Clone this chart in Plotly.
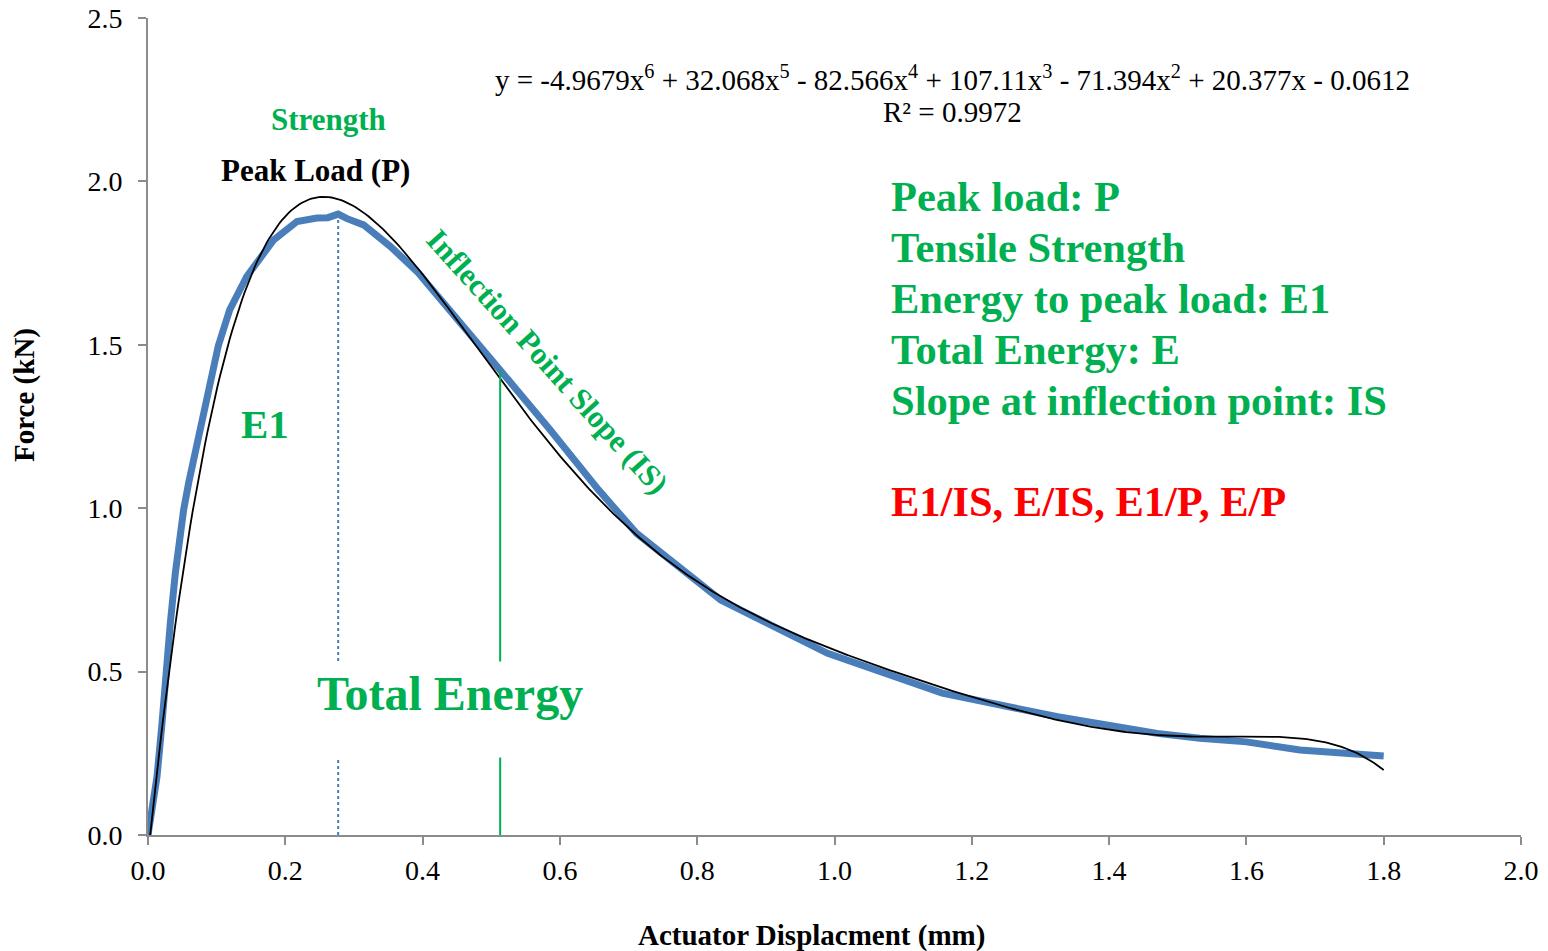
import numpy as np
import plotly.graph_objects as go

# Measured load-displacement record (mm, kN)
displacement_mm = [
    0.000, 0.003, 0.008, 0.0131, 0.0204, 0.0252, 0.0325, 0.0398, 0.0471, 0.0519,
    0.0592, 0.0665, 0.0728, 0.0855, 0.1024, 0.119, 0.1438, 0.183, 0.217, 0.246,
    0.262, 0.277, 0.290, 0.314, 0.353, 0.392, 0.4399, 0.5128, 0.5857, 0.6563,
    0.7117, 0.8343, 0.990, 1.157, 1.325, 1.470, 1.532, 1.600, 1.678, 1.800,
]
force_kn = [
    0.000, 0.046, 0.110, 0.178, 0.342, 0.495, 0.648, 0.801, 0.923, 0.995,
    1.077, 1.148, 1.209, 1.342, 1.497, 1.607, 1.709, 1.821, 1.877, 1.888,
    1.889, 1.900, 1.886, 1.867, 1.801, 1.724, 1.607, 1.423, 1.240, 1.056,
    0.923, 0.719, 0.556, 0.434, 0.362, 0.311, 0.296, 0.285, 0.260, 0.242,
]

# 6th-order polynomial trendline, highest power first
fit_coeffs = [-4.9679, 32.068, -82.566, 107.11, -71.394, 20.377, -0.0612]
r_squared = 0.9972

# displacement of the inflection point on the softening branch
inflection_x = 0.513

x_tick_values = [0.0, 0.2, 0.4, 0.6, 0.8, 1.0, 1.2, 1.4, 1.6, 1.8, 2.0]
y_tick_values = [0.0, 0.5, 1.0, 1.5, 2.0, 2.5]

summary_lines = [
    "Peak load: P",
    "Tensile Strength",
    "Energy to peak load: E1",
    "Total Energy: E",
    "Slope at inflection point: IS",
]
ratio_line = "E1/IS, E/IS, E1/P, E/P"

BLUE = "#4a7ebb"
GREEN = "#00b050"
RED = "#ff0000"
AXIS_GREY = "#8c8c8c"
SERIF = "Liberation Serif, Times New Roman, serif"

disp = np.array(displacement_mm)
force = np.array(force_kn)

x_fit = np.linspace(0.0, disp.max(), 500)
y_fit = np.polyval(fit_coeffs, x_fit)

peak_i = int(np.argmax(force))
peak_x, peak_y = disp[peak_i], force[peak_i]
infl_y = float(np.interp(inflection_x, disp, force))


def equation_text(coeffs):
    n = len(coeffs) - 1
    parts = []
    for k, c in enumerate(coeffs):
        p = n - k
        mag = f"{abs(c):g}"
        if p > 1:
            term = f"{mag}x<sup>{p}</sup>"
        elif p == 1:
            term = f"{mag}x"
        else:
            term = mag
        if k == 0:
            parts.append(("-" if c < 0 else "") + term)
        else:
            parts.append(("- " if c < 0 else "+ ") + term)
    return "y = " + " ".join(parts)


fig = go.Figure()

fig.add_trace(go.Scatter(
    x=disp, y=force, mode="lines",
    line=dict(color=BLUE, width=7),
    showlegend=False, hoverinfo="skip",
))
fig.add_trace(go.Scatter(
    x=x_fit, y=y_fit, mode="lines",
    line=dict(color="black", width=1.8),
    showlegend=False, hoverinfo="skip",
))

fig.add_shape(type="line", x0=peak_x, x1=peak_x, y0=0, y1=peak_y,
              line=dict(color=BLUE, width=2, dash="dot"))
fig.add_shape(type="line", x0=inflection_x, x1=inflection_x, y0=0, y1=infl_y,
              line=dict(color=GREEN, width=2))


def label(text, x, y, size, color, bold=True, **kw):
    fig.add_annotation(
        text=text, x=x, y=y, xref="x", yref="y", showarrow=False,
        font=dict(family=SERIF, size=size, color=color,
                  weight="bold" if bold else "normal"),
        **kw,
    )


label(equation_text(fit_coeffs), 1.1726, 2.315, 29, "black", bold=False)
label(f"R² = {r_squared}", 1.1726, 2.213, 29, "black", bold=False)

label("Strength", 0.2622, 2.188, 31, GREEN)
label("Peak Load (P)", 0.2433, 2.032, 31, "black")
label("Inflection Point Slope (IS)", 0.582, 1.450, 31, GREEN, textangle=48)
label("E1", 0.170, 1.258, 41, GREEN)
label("Total Energy", 0.440, 0.384, 48, GREEN,
      bgcolor="white", width=300, height=85, borderpad=5, valign="top")

for i, line in enumerate(summary_lines):
    label(line, 1.0794, 1.955 - i * 0.156, 42.5, GREEN, xanchor="left")
label(ratio_line, 1.0794, 1.019, 42.5, RED, xanchor="left")

fig.add_annotation(
    text="Force (kN)", x=-0.0896, y=0.5386, xref="paper", yref="paper",
    xanchor="center", yanchor="middle",
    showarrow=False, textangle=-90,
    font=dict(family=SERIF, size=29, color="black", weight="bold"),
)
fig.add_annotation(
    text="Actuator Displacment (mm)", x=0.4829, y=-0.1236,
    xref="paper", yref="paper", xanchor="center", yanchor="middle",
    showarrow=False,
    font=dict(family=SERIF, size=29, color="black", weight="bold"),
)

axis_common = dict(
    showgrid=False, zeroline=False, showline=True, automargin=False,
    linecolor=AXIS_GREY, linewidth=2,
    ticks="outside", ticklen=8, tickwidth=2, tickcolor=AXIS_GREY,
    tickfont=dict(family=SERIF, size=28, color="black"),
    tickformat=".1f",
)

fig.update_xaxes(range=[0, 2.0], tickvals=x_tick_values,
                 ticklabelstandoff=1, **axis_common)
fig.update_yaxes(range=[0, 2.5], tickvals=y_tick_values,
                 ticklabelstandoff=10, **axis_common)

fig.update_layout(
    width=1548, height=951,
    margin=dict(l=148, r=27, t=18, b=116),
    paper_bgcolor="white", plot_bgcolor="white",
)

fig.write_html("out.html")
